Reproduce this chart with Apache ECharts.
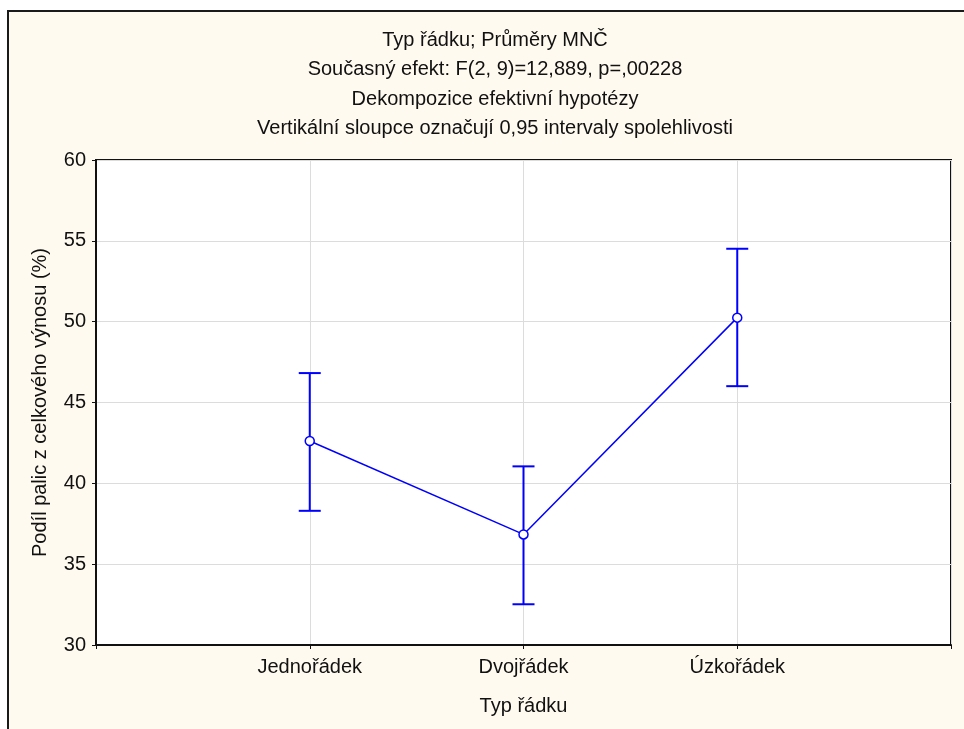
<!DOCTYPE html>
<html><head><meta charset="utf-8">
<script src="https://cdn.jsdelivr.net/npm/echarts@6/dist/echarts.min.js"></script>
<style>html,body{margin:0;padding:0;background:#fff}#c{width:964px;height:729px}</style>
</head><body><div id="c"></div>
<script>
const categories = ['Jednořádek', 'Dvojřádek', 'Úzkořádek'];
const means = [42.62, 36.84, 50.25];
const upper = [46.82, 41.05, 54.51];
const lower = [38.30, 32.52, 46.01];
const yTicks = [30, 35, 40, 45, 50, 55, 60];
const titleLines = [
  'Typ řádku; Průměry MNČ',
  'Současný efekt: F(2, 9)=12,889, p=,00228',
  'Dekompozice efektivní hypotézy',
  'Vertikální sloupce označují 0,95 intervaly spolehlivosti'
];
const xName = 'Typ řádku';
const yName = 'Podíl palic z celkového výnosu (%)';

const font = 'Arial, "Liberation Sans", sans-serif';
const fs = 20;
const chart = echarts.init(document.getElementById('c'), null, {renderer: 'canvas'});
const lineData = means.map((m, i) => [i + 1, m]);
const errData = means.map((m, i) => [i + 1, lower[i], upper[i]]);

const graphics = [
  {type: 'rect', z: -10, shape: {x: 8, y: 11, width: 970, height: 740},
   style: {fill: '#FFFAEF', stroke: '#1a1a1a', lineWidth: 2}},
  {type: 'rect', z: -9, shape: {x: 96, y: 160, width: 855, height: 485},
   style: {fill: '#ffffff'}}
];
titleLines.forEach((t, i) => {
  graphics.push({
    type: 'text', x: 495, y: 40.5 + i * 29.3,
    style: {text: t, font: fs + 'px ' + font, fill: '#111', align: 'center', verticalAlign: 'middle'}
  });
});

chart.setOption({
  animation: false,
  backgroundColor: '#ffffff',
  graphic: graphics,
  grid: {left: 96, top: 160, width: 855, height: 485, show: true, borderColor: '#111', borderWidth: 2, backgroundColor: 'transparent'},
  xAxis: {
    type: 'value', min: 0, max: 4, interval: 1,
    name: xName, nameLocation: 'middle', nameGap: 51,
    nameTextStyle: {fontFamily: font, fontSize: fs, color: '#111'},
    axisLine: {show: true, lineStyle: {color: '#111', width: 2}},
    axisTick: {show: true, length: 4, lineStyle: {color: '#111'}},
    axisLabel: {fontFamily: font, fontSize: fs, color: '#111', margin: 12,
      formatter: v => (v >= 1 && v <= categories.length) ? categories[v - 1] : ''},
    splitLine: {show: true, lineStyle: {color: '#dcdcdc', width: 1}}
  },
  yAxis: {
    type: 'value', min: yTicks[0], max: yTicks[yTicks.length - 1], interval: 5,
    name: yName, nameLocation: 'middle', nameGap: 46,
    nameTextStyle: {fontFamily: font, fontSize: fs, color: '#111'},
    axisLine: {show: true, lineStyle: {color: '#111', width: 2}},
    axisTick: {show: true, length: 4, lineStyle: {color: '#111'}},
    axisLabel: {fontFamily: font, fontSize: fs, color: '#111', margin: 10},
    splitLine: {show: true, lineStyle: {color: '#dcdcdc', width: 1}}
  },
  series: [
    {
      type: 'custom', data: errData, z: 3,
      renderItem: (params, api) => {
        const x = api.value(0);
        const lo = api.coord([x, api.value(1)]);
        const hi = api.coord([x, api.value(2)]);
        const st = {stroke: '#0000ff', lineWidth: 2};
        return {type: 'group', children: [
          {type: 'line', shape: {x1: lo[0], y1: lo[1], x2: hi[0], y2: hi[1]}, style: st},
          {type: 'line', shape: {x1: lo[0] - 11, y1: lo[1], x2: lo[0] + 11, y2: lo[1]}, style: st},
          {type: 'line', shape: {x1: hi[0] - 11, y1: hi[1], x2: hi[0] + 11, y2: hi[1]}, style: st}
        ]};
      }
    },
    {
      type: 'line', data: lineData, z: 4,
      lineStyle: {color: '#0000ff', width: 1.5},
      symbol: 'circle', symbolSize: 9,
      itemStyle: {color: '#ffffff', borderColor: '#0000ff', borderWidth: 1.5}
    }
  ]
});
</script></body></html>
